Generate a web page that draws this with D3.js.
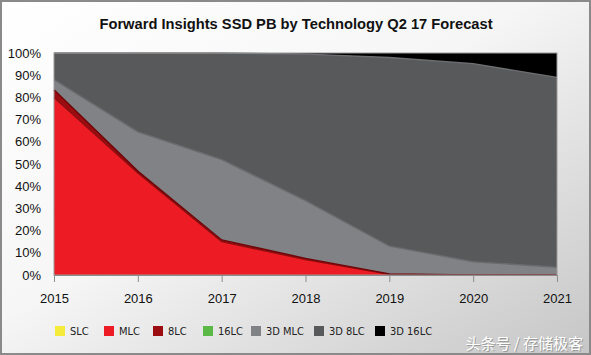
<!DOCTYPE html>
<html><head><meta charset="utf-8">
<script src="https://cdn.jsdelivr.net/npm/d3@7"></script>
<style>
html,body{margin:0;padding:0;}
svg{display:block;}
</style>
</head><body>
<svg id="chart" width="591" height="355"></svg>
<script>
const years = [2015, 2016, 2017, 2018, 2019, 2020, 2021];
const seriesNames = ["SLC", "MLC", "8LC", "16LC", "3D MLC", "3D 8LC", "3D 16LC"];
const SLC     = [0, 0, 0, 0, 0, 0, 0];
const MLC     = [80, 46, 15, 7, 0.3, 0, 0];
const LC8     = [3.5, 0.8, 0.8, 0.5, 0.2, 0, 0];
const LC16    = [0, 0, 0, 0, 0, 0, 0];
const MLC3D   = [4.5, 17.7, 36.2, 26, 12.5, 6, 3.5];
const LC8_3D  = [12, 35.5, 48, 66, 85, 89.2, 85.5];
const LC16_3D = [0, 0, 0, 0.5, 2, 4.8, 11];
const yTicks = [0,10,20,30,40,50,60,70,80,90,100];

const colors = ["#f5eb3a", "#ed1c24", "#9b0d10", "#5bb947", "#808285", "#58595b", "#000000"];
const strokes = ["#c9bf20", "#8e0d10", "#6e0508", "#3f8a30", "#6a6b6e", "#6d6e71", "#000000"];

const seriesValues = [SLC, MLC, LC8, LC16, MLC3D, LC8_3D, LC16_3D];
const table = years.map((yr, i) => {
  const row = {year: yr};
  seriesNames.forEach((n, k) => row[n] = seriesValues[k][i]);
  return row;
});

const svg = d3.select("#chart");
const W = 591, H = 355;

// background gradient
const defs = svg.append("defs");
const grad = defs.append("linearGradient").attr("id", "bg")
  .attr("x1", "0").attr("y1", "0").attr("x2", "1").attr("y2", "1");
grad.append("stop").attr("offset", "0%").attr("stop-color", "#ffffff");
grad.append("stop").attr("offset", "45%").attr("stop-color", "#f6f6f6");
grad.append("stop").attr("offset", "100%").attr("stop-color", "#c6c6c6");
svg.append("rect").attr("x", 0).attr("y", 0).attr("width", W).attr("height", H).attr("fill", "url(#bg)");
svg.append("rect").attr("x", 1).attr("y", 1).attr("width", W - 2).attr("height", H - 2)
  .attr("fill", "none").attr("stroke", "#8a8a8a").attr("stroke-width", 2);

const pLeft = 54, pRight = 557, pTop = 53, pBottom = 275;
const x = d3.scaleLinear().domain([2015, 2021]).range([pLeft, pRight]);
const y = d3.scaleLinear().domain([0, 100]).range([pBottom, pTop]);

const stack = d3.stack().keys(seriesNames);
const layers = stack(table);

const area = d3.area().x(d => x(d.data.year)).y0(d => y(d[0])).y1(d => y(d[1]));
const topLine = d3.line().x(d => x(d.data.year)).y(d => y(d[1]));

const g = svg.append("g");
g.selectAll("path.area").data(layers).join("path")
  .attr("class", "area")
  .attr("d", area)
  .attr("fill", (d, i) => colors[i]);

g.selectAll("path.edge").data(layers.filter((d, i) => i < 6 && d3.max(d, p => p[1] - p[0]) > 0)).join("path")
  .attr("class", "edge")
  .attr("d", topLine)
  .attr("fill", "none")
  .attr("stroke", d => strokes[seriesNames.indexOf(d.key)])
  .attr("stroke-width", 1.4);

// plot frame
svg.append("rect").attr("x", pLeft).attr("y", pTop).attr("width", pRight - pLeft).attr("height", pBottom - pTop)
  .attr("fill", "none").attr("stroke", "#9a9a9a").attr("stroke-width", 1);

// x axis
const xAxis = d3.axisBottom(x).tickValues(years).tickFormat(d3.format("d")).tickSize(7).tickPadding(12);
const xg = svg.append("g").attr("transform", `translate(0,${pBottom})`).call(xAxis);
xg.select(".domain").attr("stroke", "#8c8c8c");
xg.selectAll(".tick line").attr("stroke", "#8c8c8c");
xg.selectAll("text").attr("font-family", "Liberation Sans, Arial, sans-serif").attr("font-size", 13).attr("fill", "#111");

// y axis
const yAxis = d3.axisLeft(y).tickValues(yTicks).tickFormat(d => d + "%").tickSize(0).tickPadding(13);
const yg = svg.append("g").attr("transform", `translate(${pLeft},0)`).call(yAxis);
yg.select(".domain").remove();
yg.selectAll("text").attr("font-family", "Liberation Sans, Arial, sans-serif").attr("font-size", 13).attr("fill", "#111");

// title
svg.append("text").attr("x", 296).attr("y", 29).attr("text-anchor", "middle")
  .attr("font-family", "Liberation Sans, Arial, sans-serif").attr("font-weight", "bold").attr("font-size", 14.7)
  .attr("fill", "#111").text("Forward Insights SSD PB by Technology Q2 17 Forecast");

// legend
const legendX = [55, 104, 153, 203, 251, 314, 375];
const lg = svg.append("g");
seriesNames.forEach((n, i) => {
  lg.append("rect").attr("x", legendX[i]).attr("y", 326).attr("width", 10).attr("height", 10).attr("fill", colors[i]);
  lg.append("text").attr("x", legendX[i] + 15).attr("y", 335)
    .attr("font-family", "DejaVu Sans Condensed, sans-serif").attr("font-stretch", "condensed").attr("font-size", 11)
    .attr("fill", "#222").text(n);
});

// watermark (shadow + white text)
const wm = "头条号 / 存储极客";
svg.append("text").attr("x", 584).attr("y", 350).attr("text-anchor", "end")
  .attr("font-family", "Noto Sans CJK SC, sans-serif").attr("font-size", 15)
  .attr("fill", "#8f8f8f").attr("opacity", 0.8).text(wm);
svg.append("text").attr("x", 583).attr("y", 349).attr("text-anchor", "end")
  .attr("font-family", "Noto Sans CJK SC, sans-serif").attr("font-size", 15)
  .attr("fill", "#ffffff").text(wm);
</script>
</body></html>
